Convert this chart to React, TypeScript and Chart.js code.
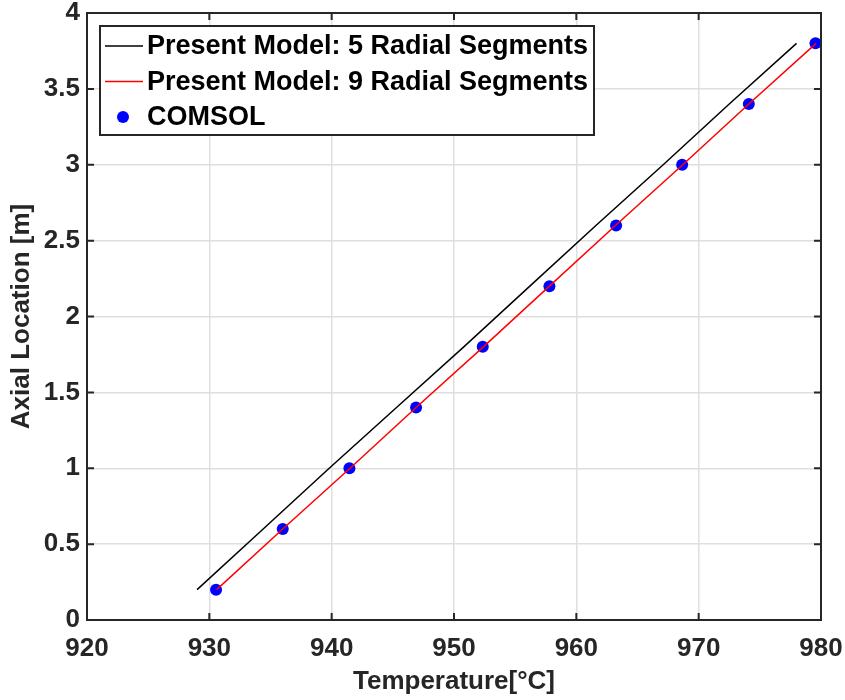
import React, { useEffect, useRef } from "react";
import { Chart, registerables } from "chart.js";

Chart.register(...registerables);

const axialLocation = [0.2, 0.6, 1.0, 1.4, 1.8, 2.2, 2.6, 3.0, 3.4, 3.8];
const model5Temp = [929.0, 934.4, 939.8, 945.3, 950.8, 956.2, 961.6, 967.1, 972.5, 978.0];
const model9Temp = [930.6, 936.0, 941.5, 946.9, 952.4, 957.8, 963.2, 968.7, 974.1, 979.6];
const comsolTemp = [930.55, 936.0, 941.45, 946.9, 952.35, 957.8, 963.25, 968.65, 974.1, 979.55];

const seriesLabels = [
  "Present Model: 5 Radial Segments",
  "Present Model: 9 Radial Segments",
  "COMSOL",
];
const xTickMin = 920;
const xTickMax = 980;
const xTickStep = 10;
const yTickMin = 0;
const yTickMax = 4;
const yTickStep = 0.5;

const FONT = "'Liberation Sans', Arial, Helvetica, sans-serif";
const AXIS_COLOR = "#262626";

const toPoints = (xs: number[], ys: number[]) => xs.map((x, i) => ({ x, y: ys[i] }));

const framePlugin = {
  id: "matlabFrame",
  afterDatasetsDraw(chart: any) {
    const { ctx, chartArea } = chart;
    const { left, right, top, bottom } = chartArea;
    const xs = chart.scales.x;
    const ys = chart.scales.y;
    ctx.save();
    ctx.strokeStyle = AXIS_COLOR;
    ctx.lineWidth = 2;
    const tl = 7;
    ctx.beginPath();
    xs.ticks.forEach((t: any) => {
      const p = xs.getPixelForValue(t.value);
      ctx.moveTo(p, bottom);
      ctx.lineTo(p, bottom - tl);
      ctx.moveTo(p, top);
      ctx.lineTo(p, top + tl);
    });
    ys.ticks.forEach((t: any) => {
      const p = ys.getPixelForValue(t.value);
      ctx.moveTo(left, p);
      ctx.lineTo(left + tl, p);
      ctx.moveTo(right, p);
      ctx.lineTo(right - tl, p);
    });
    ctx.stroke();
    ctx.strokeRect(left, top, right - left, bottom - top);
    ctx.restore();
  },
  afterDraw(chart: any) {
    const { ctx, chartArea } = chart;
    const bx = chartArea.left + 13;
    const by = chartArea.top + 13;
    const bw = 494;
    const bh = 109;
    ctx.save();
    ctx.fillStyle = "#ffffff";
    ctx.fillRect(bx, by, bw, bh);
    ctx.strokeStyle = AXIS_COLOR;
    ctx.lineWidth = 2;
    ctx.strokeRect(bx, by, bw, bh);
    const rowY = [by + 20, by + 55.5, by + 91];
    const ds = chart.data.datasets;
    ctx.font = `bold 27px ${FONT}`;
    ctx.textBaseline = "middle";
    ctx.fillStyle = "#000000";
    ds.forEach((d: any, i: number) => {
      const y = rowY[i];
      if (d.showLine) {
        ctx.strokeStyle = d.borderColor;
        ctx.lineWidth = 1.5;
        ctx.beginPath();
        ctx.moveTo(bx + 5, y);
        ctx.lineTo(bx + 43, y);
        ctx.stroke();
      } else {
        ctx.fillStyle = d.backgroundColor;
        ctx.beginPath();
        ctx.arc(bx + 23, y, 6, 0, Math.PI * 2);
        ctx.fill();
      }
      ctx.fillStyle = "#000000";
      ctx.fillText(d.label, bx + 47, y + 1);
    });
    ctx.restore();
  },
};

export default function App() {
  const canvasRef = useRef<HTMLCanvasElement | null>(null);

  useEffect(() => {
    if (!canvasRef.current) return;
    const chart = new Chart(canvasRef.current, {
      type: "scatter",
      data: {
        datasets: [
          {
            label: seriesLabels[0],
            data: toPoints(model5Temp, axialLocation),
            showLine: true,
            borderColor: "#000000",
            backgroundColor: "#000000",
            borderWidth: 1.5,
            pointRadius: 0,
          },
          {
            label: seriesLabels[1],
            data: toPoints(model9Temp, axialLocation),
            showLine: true,
            borderColor: "#ff0000",
            backgroundColor: "#ff0000",
            borderWidth: 1.5,
            pointRadius: 0,
          },
          {
            label: seriesLabels[2],
            data: toPoints(comsolTemp, axialLocation),
            showLine: false,
            borderColor: "#0000ff",
            backgroundColor: "#0000ff",
            pointRadius: 6,
            pointBorderWidth: 0,
          },
        ],
      },
      options: {
        responsive: false,
        animation: false,
        layout: { padding: { top: 13, right: 24, left: 0, bottom: 0 } },
        plugins: {
          legend: { display: false },
          tooltip: { enabled: false },
        },
        scales: {
          x: {
            type: "linear",
            min: xTickMin,
            max: xTickMax,
            ticks: {
              stepSize: xTickStep,
              color: AXIS_COLOR,
              font: { family: FONT, size: 26, weight: "bold", lineHeight: 1 },
              padding: 16,
            },
            grid: { color: "#dfdfdf", lineWidth: 1.5, drawTicks: false },
            border: { display: false },
            title: {
              display: true,
              text: "Temperature[°C]",
              color: AXIS_COLOR,
              font: { family: FONT, size: 26, weight: "bold", lineHeight: 1 },
              padding: { top: 0, bottom: 5 },
            },
            afterFit: (s: any) => {
              s.height = 80;
              s.paddingLeft = 0;
              s.paddingRight = 0;
            },
          },
          y: {
            type: "linear",
            min: yTickMin,
            max: yTickMax,
            ticks: {
              stepSize: yTickStep,
              color: AXIS_COLOR,
              font: { family: FONT, size: 26, weight: "bold", lineHeight: 1 },
              padding: 7,
              callback: (v: any) => `${+Number(v).toFixed(2)}`,
            },
            grid: { color: "#dfdfdf", lineWidth: 1.5, drawTicks: false },
            border: { display: false },
            title: {
              display: true,
              text: "Axial Location [m]",
              color: AXIS_COLOR,
              font: { family: FONT, size: 26, weight: "bold", lineHeight: 1 },
              padding: { top: 9, bottom: 0 },
            },
            afterFit: (s: any) => {
              s.width = 87;
              s.paddingTop = 0;
              s.paddingBottom = 0;
            },
          },
        },
      },
      plugins: [framePlugin],
    });
    return () => chart.destroy();
  }, []);

  return (
    <div style={{ position: "fixed", left: 0, top: 0, width: 845, height: 700, background: "#fff" }}>
      <canvas ref={canvasRef} width={845} height={700} style={{ width: 845, height: 700 }} />
    </div>
  );
}
